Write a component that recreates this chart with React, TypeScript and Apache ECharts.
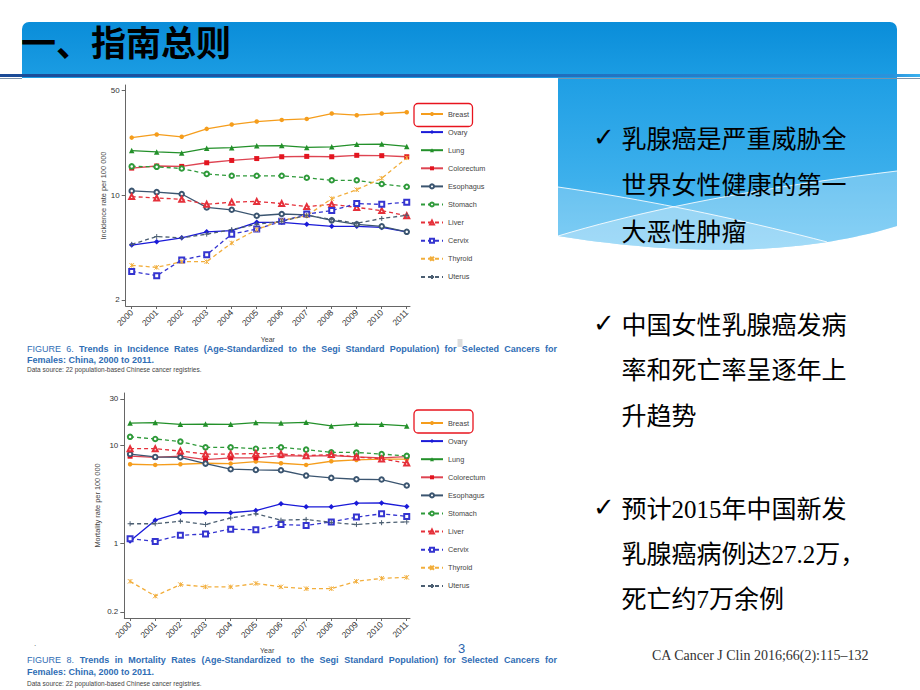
import React, { useEffect, useRef } from 'react';
import * as echarts from 'echarts';

// ---------- data ----------
const years = [2000, 2001, 2002, 2003, 2004, 2005, 2006, 2007, 2008, 2009, 2010, 2011];
const cancerNames = ['Breast', 'Ovary', 'Lung', 'Colorectum', 'Esophagus', 'Stomach', 'Liver', 'Cervix', 'Thyroid', 'Uterus'];

// Incidence rates per 100 000 (Figure 6)
const incBreast = [24.3, 25.5, 24.6, 27.8, 29.7, 31.1, 31.9, 32.4, 35.2, 34.3, 35.2, 35.9];
const incOvary = [4.65, 4.9, 5.2, 5.7, 5.8, 6.6, 6.6, 6.4, 6.2, 6.2, 6.1, 5.7];
const incLung = [19.9, 19.5, 19.2, 20.6, 20.8, 21.4, 21.5, 20.9, 21.1, 21.9, 22.0, 21.2];
const incColorectum = [15.2, 15.7, 15.6, 16.5, 17.1, 17.6, 18.1, 18.2, 18.1, 18.5, 18.4, 18.1];
const incEsophagus = [10.7, 10.5, 10.2, 8.3, 8.0, 7.3, 7.5, 7.4, 6.8, 6.4, 6.2, 5.7];
const incStomach = [15.6, 15.5, 15.1, 13.9, 13.5, 13.5, 13.5, 13.1, 12.6, 12.6, 11.9, 11.4];
const incLiver = [9.8, 9.6, 9.4, 8.7, 9.0, 9.1, 8.8, 8.4, 8.7, 8.3, 7.9, 7.3];
const incCervix = [3.1, 2.9, 3.7, 4.0, 5.5, 5.95, 6.7, 7.5, 7.9, 8.8, 8.7, 9.0];
const incThyroid = [3.4, 3.3, 3.6, 3.6, 4.8, 5.9, 6.8, 7.3, 9.5, 10.9, 13.0, 17.8];
const incUterus = [4.7, 5.3, 5.2, 5.5, 5.9, 6.4, 6.7, 7.35, 6.9, 6.5, 7.0, 7.35];

// Mortality rates per 100 000 (Figure 8)
const mortBreast = [6.45, 6.35, 6.45, 6.6, 6.55, 6.87, 6.6, 6.35, 6.92, 7.14, 7.26, 7.26];
const mortOvary = [1.06, 1.73, 2.07, 2.06, 2.06, 2.17, 2.54, 2.37, 2.37, 2.58, 2.59, 2.38];
const mortLung = [17.0, 17.2, 16.5, 16.6, 16.5, 17.2, 17.0, 17.3, 15.9, 16.6, 16.5, 15.9];
const mortColorectum = [7.8, 7.6, 7.8, 7.2, 7.5, 7.5, 7.9, 7.8, 7.9, 7.66, 7.5, 7.7];
const mortEsophagus = [8.2, 7.66, 7.6, 6.55, 5.74, 5.65, 5.6, 4.94, 4.68, 4.53, 4.5, 3.91];
const mortStomach = [12.3, 11.7, 11.0, 9.6, 9.6, 9.3, 9.6, 9.1, 8.55, 8.5, 8.2, 7.85];
const mortLiver = [9.3, 9.3, 8.8, 8.2, 8.2, 8.3, 8.2, 7.9, 8.1, 7.66, 7.3, 6.65];
const mortCervix = [1.12, 1.05, 1.21, 1.25, 1.4, 1.38, 1.56, 1.53, 1.66, 1.86, 2.01, 1.89];
const mortThyroid = [0.41, 0.29, 0.38, 0.36, 0.36, 0.39, 0.36, 0.345, 0.345, 0.41, 0.44, 0.45];
const mortUterus = [1.59, 1.59, 1.69, 1.56, 1.82, 2.01, 1.73, 1.76, 1.64, 1.56, 1.63, 1.66];

const incTicks = [2, 10, 50];
const mortTicks = [0.2, 1, 10, 30];

const incidence = {
  Breast: incBreast, Ovary: incOvary, Lung: incLung, Colorectum: incColorectum, Esophagus: incEsophagus,
  Stomach: incStomach, Liver: incLiver, Cervix: incCervix, Thyroid: incThyroid, Uterus: incUterus,
};
const mortality = {
  Breast: mortBreast, Ovary: mortOvary, Lung: mortLung, Colorectum: mortColorectum, Esophagus: mortEsophagus,
  Stomach: mortStomach, Liver: mortLiver, Cervix: mortCervix, Thyroid: mortThyroid, Uterus: mortUterus,
};

const caption1 = 'FIGURE 6. Trends in Incidence Rates (Age-Standardized to the Segi Standard Population) for Selected Cancers for';
const caption2 = 'FIGURE 8. Trends in Mortality Rates (Age-Standardized to the Segi Standard Population) for Selected Cancers for';
const captionTail = 'Females: China, 2000 to 2011.';
const sourceText = 'Data source: 22 population-based Chinese cancer registries.';

const bulletTexts = [
  '乳腺癌是严重威胁全', '世界女性健康的第一', '大恶性肿瘤',
  '中国女性乳腺癌发病', '率和死亡率呈逐年上', '升趋势',
  '预计2015年中国新发', '乳腺癌病例达27.2万，', '死亡约7万余例',
];

// ---------- styles ----------
const look = {
  Breast: { color: '#f59d1c', dashed: false, symbol: 'circle', size: 4.5 },
  Ovary: { color: '#1a1ad8', dashed: false, symbol: 'diamond', size: 5.5 },
  Lung: { color: '#23902a', dashed: false, symbol: 'triangle', size: 5.5 },
  Colorectum: { color: '#e3141f', dashed: false, symbol: 'rect', size: 5, line: '#de4452' },
  Esophagus: { color: '#3b5570', dashed: false, symbol: 'emptyCircle', size: 4.5 },
  Stomach: { color: '#2f9a3a', dashed: true, symbol: 'emptyCircle', size: 4.5 },
  Liver: { color: '#e5303a', dashed: true, symbol: 'emptyTriangle', size: 5 },
  Cervix: { color: '#3434d0', dashed: true, symbol: 'emptyRect', size: 5 },
  Thyroid: { color: '#f2ae3c', dashed: true, symbol: 'path://M0,0L10,10M10,0L0,10M5,0L5,10', size: 4.5 },
  Uterus: { color: '#4c5f72', dashed: true, symbol: 'path://M5,0L5,10M0,5L10,5', size: 5 },
};

const SANS = '"Liberation Sans", Arial, sans-serif';
const CJK = '"Noto Sans CJK SC", sans-serif';

function buildSeries(table, gi) {
  return cancerNames.map((name) => {
    const lk = look[name];
    const outlined = lk.symbol.indexOf('empty') === 0 || lk.symbol.indexOf('path://') === 0;
    return {
      type: 'line',
      name,
      xAxisIndex: gi,
      yAxisIndex: gi,
      data: years.map((y, i) => [y, table[name][i]]),
      symbol: lk.symbol,
      symbolSize: lk.size,
      showSymbol: true,
      silent: true,
      lineStyle: { color: lk.line || lk.color, width: 1.3, type: lk.dashed ? [4, 3] : 'solid' },
      itemStyle: { color: lk.color, borderColor: lk.color, borderWidth: outlined ? 1 : 0 },
      emphasis: { disabled: true },
    };
  });
}

function xAxis(gi, min, max, gap) {
  return {
    type: 'value', gridIndex: gi, min, max,
    name: 'Year', nameLocation: 'middle', nameGap: gap,
    nameTextStyle: { fontSize: 7, color: '#444', fontFamily: SANS },
    axisLine: { show: true, lineStyle: { color: '#666', width: 1 } },
    axisTick: { show: true, length: 3, customValues: years, lineStyle: { color: '#666' } },
    axisLabel: { customValues: years, rotate: 45, fontSize: 8.5, color: '#333', margin: 5, fontFamily: SANS, formatter: (v) => String(v) },
    splitLine: { show: false },
  };
}

function yAxis(gi, min, max, ticks, name, gap) {
  return {
    type: 'log', logBase: 10, gridIndex: gi, min, max,
    name, nameLocation: 'middle', nameGap: gap,
    nameTextStyle: { fontSize: 7.4, color: '#444', fontFamily: SANS },
    axisLine: { show: true, lineStyle: { color: '#666', width: 1 } },
    axisTick: { show: true, length: 4, customValues: ticks, lineStyle: { color: '#666' } },
    axisLabel: { customValues: ticks, fontSize: 8, color: '#333', margin: 6, fontFamily: SANS, formatter: (v) => String(v) },
    splitLine: { show: false },
    minorTick: { show: false },
  };
}

function legend(top) {
  return {
    data: cancerNames, orient: 'vertical', left: 420, top, padding: 0,
    itemWidth: 22, itemHeight: 5, itemGap: 8.1, selectedMode: false,
    textStyle: { fontSize: 7.3, color: '#444', lineHeight: 10, fontFamily: SANS },
  };
}

// ---------- helpers for decoration ----------
function quad(p0, c, p2, n) {
  const pts = [];
  for (let i = 0; i <= n; i++) {
    const t = i / n;
    const a = (1 - t) * (1 - t), b = 2 * (1 - t) * t, d = t * t;
    pts.push([a * p0[0] + b * c[0] + d * p2[0], a * p0[1] + b * c[1] + d * p2[1]]);
  }
  return pts;
}

let measureCtx = null;
function measure(text, font) {
  if (!measureCtx) measureCtx = document.createElement('canvas').getContext('2d');
  measureCtx.font = font;
  return measureCtx.measureText(text).width;
}

function justified(text, x0, x1, y, size, color) {
  const words = text.split(' ');
  const weightOf = (i) => (i < 2 ? 'normal' : 'bold');
  let fs = size;
  let widths = words.map((w, i) => measure(w, `${weightOf(i)} ${fs}px ${SANS}`));
  let total = widths.reduce((a, b) => a + b, 0);
  const minGap = 2;
  if (total + minGap * (words.length - 1) > x1 - x0) {
    fs = fs * (x1 - x0 - minGap * (words.length - 1)) / total;
    widths = words.map((w, i) => measure(w, `${weightOf(i)} ${fs}px ${SANS}`));
    total = widths.reduce((a, b) => a + b, 0);
  }
  const gap = (x1 - x0 - total) / (words.length - 1);
  let x = x0;
  return words.map((w, i) => {
    const el = {
      type: 'text', x, y, silent: true,
      style: { text: w, fontSize: fs, fontWeight: weightOf(i), fontFamily: SANS, fill: color, verticalAlign: 'middle', align: 'left' },
    };
    x += widths[i] + gap;
    return el;
  });
}

function buildGraphic() {
  const els = [];
  // header band
  els.push({
    type: 'rect', silent: true, z: -10,
    shape: { x: 22, y: 22, width: 875, height: 56, r: [7, 7, 0, 0] },
    style: { fill: new echarts.graphic.LinearGradient(0, 0, 0, 1, [{ offset: 0, color: '#0a8dd9' }, { offset: 1, color: '#1c9de3' }]) },
  });
  // right panel with wavy bottom
  const bottom = quad([897, 226], [760, 268], [558, 236], 40); // right -> left
  const panelPts = [[558, 76], [897, 76]].concat(bottom);
  els.push({
    type: 'polygon', silent: true, z: -10,
    shape: { points: panelPts },
    style: { fill: new echarts.graphic.LinearGradient(0, 0, 0, 1, [{ offset: 0, color: '#1e9ee4' }, { offset: 0.6, color: '#3db0ec' }, { offset: 1, color: '#5cc0f2' }]) },
  });
  const yAt = (x) => {
    for (let i = 0; i < bottom.length - 1; i++) {
      const a = bottom[i], b = bottom[i + 1];
      if ((a[0] >= x && b[0] <= x)) {
        const t = (a[0] - x) / (a[0] - b[0] || 1);
        return a[1] + t * (b[1] - a[1]);
      }
    }
    return 236;
  };
  const line1 = quad([558, 187], [690, 206], [827, yAt(827)], 20);
  const line2 = quad([558, 236], [690, 196], [897, 171], 20);
  const ribbonA = line1.concat(bottom.filter((p) => p[0] < 827));
  const ribbonB = line2.concat([[897, 226]]).concat(bottom.slice(1));
  els.push({ type: 'polygon', silent: true, z: -9, shape: { points: ribbonA }, style: { fill: 'rgba(255,255,255,0.22)' } });
  els.push({ type: 'polygon', silent: true, z: -9, shape: { points: ribbonB }, style: { fill: 'rgba(255,255,255,0.28)' } });
  els.push({ type: 'polyline', silent: true, z: -8, shape: { points: line1 }, style: { stroke: 'rgba(255,255,255,0.85)', lineWidth: 1, fill: null } });
  els.push({ type: 'polyline', silent: true, z: -8, shape: { points: line2 }, style: { stroke: 'rgba(255,255,255,0.85)', lineWidth: 1, fill: null } });
  // divider lines
  els.push({
    type: 'rect', silent: true, z: -7,
    shape: { x: 0, y: 74, width: 920, height: 3 },
    style: { fill: new echarts.graphic.LinearGradient(0, 0, 1, 0, [{ offset: 0, color: '#1b4a96' }, { offset: 0.5, color: '#1d62b4' }, { offset: 0.97, color: '#2a93dc' }, { offset: 1, color: '#3bb3f0' }]) },
  });
  els.push({ type: 'line', silent: true, z: -7, shape: { x1: 0, y1: 78.5, x2: 22, y2: 78.5 }, style: { stroke: '#7d92a8', lineWidth: 1 } });
  els.push({ type: 'line', silent: true, z: -7, shape: { x1: 558, y1: 78.5, x2: 920, y2: 78.5 }, style: { stroke: '#7d92a8', lineWidth: 1 } });
  // title
  els.push({
    type: 'text', x: 21, y: 40, silent: true,
    style: { text: '一、指南总则', fontSize: 35, fontWeight: 'bold', fontFamily: CJK, fill: '#000', verticalAlign: 'middle', align: 'left' },
  });
  // bullet text
  const lineY = [139, 185.5, 232, 325, 370.5, 416, 509, 554, 599];
  bulletTexts.forEach((t, i) => {
    if (i % 3 === 0) {
      els.push({
        type: 'text', x: 593, y: lineY[i] - 2, silent: true,
        style: { text: '✓', fontSize: 26, fontWeight: 'bold', fontFamily: '"DejaVu Sans", sans-serif', fill: '#000', verticalAlign: 'middle', align: 'left' },
      });
    }
    els.push({
      type: 'text', x: 621.5, y: lineY[i], silent: true,
      style: { text: t, fontSize: 25, fontFamily: '"Liberation Serif", "Noto Sans CJK SC", serif', fill: '#000', verticalAlign: 'middle', align: 'left' },
    });
  });
  els.push({
    type: 'text', x: 652, y: 655, silent: true,
    style: { text: 'CA Cancer J Clin 2016;66(2):115–132', fontSize: 14, fontFamily: '"Liberation Serif", serif', fill: '#333', verticalAlign: 'middle', align: 'left' },
  });
  // captions
  const capBlue = '#2f6db5';
  justified(caption1, 27, 557, 349, 9, capBlue).forEach((e) => els.push(e));
  els.push({ type: 'text', x: 27, y: 360, silent: true, style: { text: captionTail, fontSize: 9, fontWeight: 'bold', fontFamily: SANS, fill: capBlue, verticalAlign: 'middle' } });
  els.push({ type: 'text', x: 27, y: 369.5, silent: true, style: { text: sourceText, fontSize: 6.5, fontFamily: SANS, fill: '#444', verticalAlign: 'middle' } });
  justified(caption2, 27, 557, 660, 9, capBlue).forEach((e) => els.push(e));
  els.push({ type: 'text', x: 27, y: 672, silent: true, style: { text: captionTail, fontSize: 9, fontWeight: 'bold', fontFamily: SANS, fill: capBlue, verticalAlign: 'middle' } });
  els.push({ type: 'text', x: 27, y: 683.5, silent: true, style: { text: sourceText, fontSize: 6.5, fontFamily: SANS, fill: '#444', verticalAlign: 'middle' } });
  // legend highlight boxes
  els.push({ type: 'rect', silent: true, z: 100, shape: { x: 414, y: 103.5, width: 58.5, height: 23, r: 4 }, style: { fill: null, stroke: '#e8141e', lineWidth: 1.3 } });
  els.push({ type: 'rect', silent: true, z: 100, shape: { x: 414, y: 410, width: 59, height: 23, r: 4 }, style: { fill: null, stroke: '#e8141e', lineWidth: 1.3 } });
  // small marks
  els.push({ type: 'rect', silent: true, shape: { x: 457.5, y: 339, width: 5, height: 8 }, style: { fill: '#dcdcdc' } });
  els.push({ type: 'text', x: 458, y: 648, silent: true, style: { text: '3', fontSize: 13, fontFamily: SANS, fill: '#2d64ad', verticalAlign: 'middle' } });
  els.push({ type: 'text', x: 34, y: 643, silent: true, style: { text: '.', fontSize: 8, fontFamily: SANS, fill: '#555', verticalAlign: 'middle' } });
  return els;
}

export default function App() {
  const ref = useRef(null);
  useEffect(() => {
    if (!ref.current) return;
    const chart = echarts.init(ref.current, null, { renderer: 'svg' });
    const option = {
      animation: false,
      backgroundColor: '#ffffff',
      grid: [
        { left: 125.7, top: 85, width: 284.3, height: 221 },
        { left: 124.3, top: 393, width: 285.7, height: 225 },
      ],
      xAxis: [xAxis(0, 1999.76, 2011.13, 30), xAxis(1, 1999.77, 2011.13, 29)],
      yAxis: [
        yAxis(0, 1.82, 54.6, incTicks, 'Incidence rate per 100 000', 19),
        yAxis(1, 0.173, 34.5, mortTicks, 'Mortality rate per 100 000', 23),
      ],
      legend: [legend(109), legend(418)],
      series: buildSeries(incidence, 0).concat(buildSeries(mortality, 1)),
      graphic: { elements: buildGraphic() },
    };
    chart.setOption(option);
    return () => chart.dispose();
  }, []);
  return <div ref={ref} style={{ position: 'absolute', left: 0, top: 0, width: 920, height: 690 }} />;
}
